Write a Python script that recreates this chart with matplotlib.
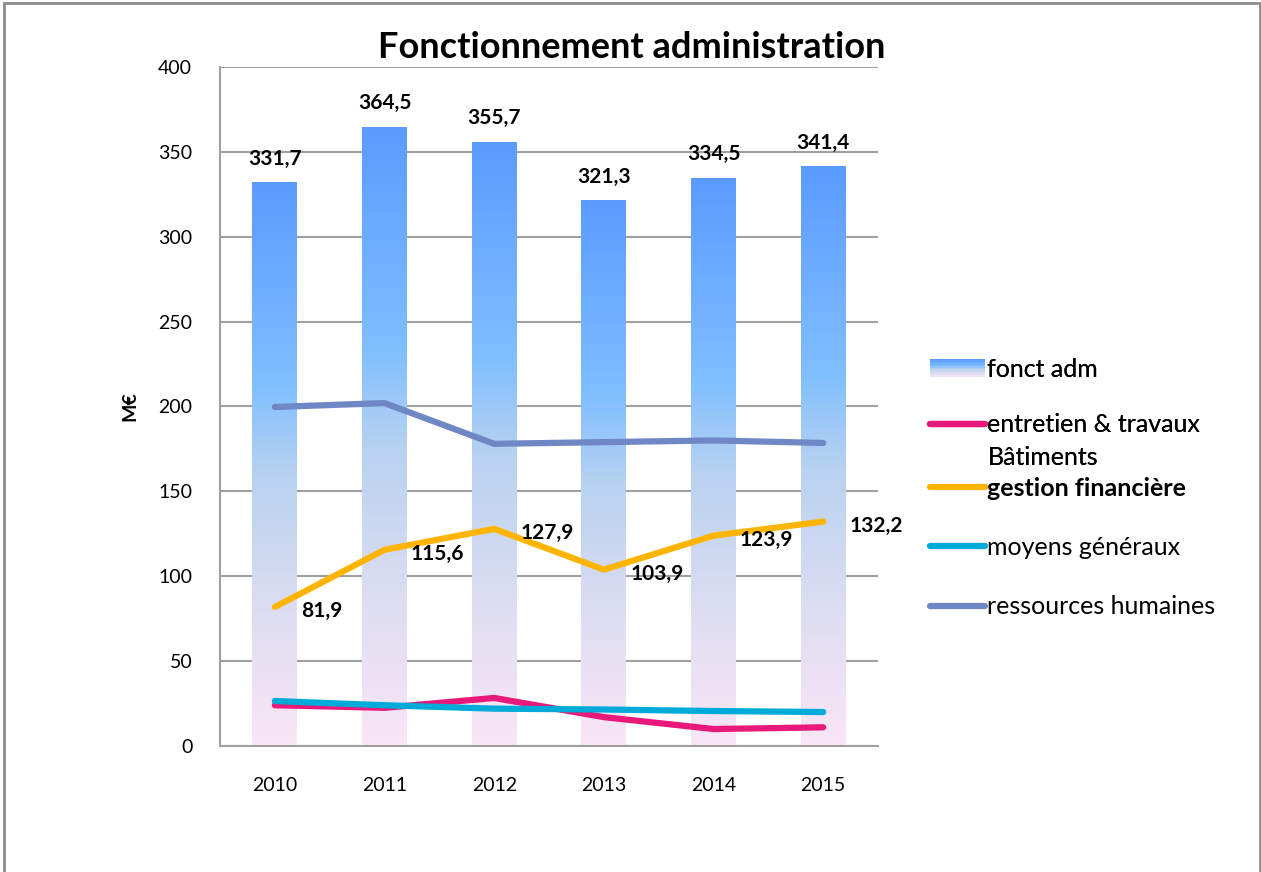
import numpy as np
import matplotlib.pyplot as plt
from matplotlib.colors import LinearSegmentedColormap
from matplotlib.patches import Rectangle
from matplotlib.lines import Line2D
from matplotlib.legend_handler import HandlerBase

plt.rcParams['font.family'] = ['Lato', 'DejaVu Sans']

annees = ['2010', '2011', '2012', '2013', '2014', '2015']
fonct_adm = [331.7, 364.5, 355.7, 321.3, 334.5, 341.4]
entretien = [24, 22.5, 28.3, 17, 10, 11]
gestion = [81.9, 115.6, 127.9, 103.9, 123.9, 132.2]
moyens = [26.5, 24, 22, 21.5, 20.6, 20]
rh = [199.7, 202, 178, 179, 180, 178.5]

degrade = LinearSegmentedColormap.from_list('degrade', [
    (0.0, '#f9e6f6'), (0.22, '#e0def2'), (0.48, '#b8d2f0'),
    (0.64, '#80bfff'), (1.0, '#5b9bff')])

fig = plt.figure(figsize=(12.61, 8.72), dpi=100)
ax = fig.add_axes([0.1745, 0.1445, 0.5218, 0.7787])

x = np.arange(len(annees))
larg = 0.41
barres = ax.bar(x, fonct_adm, width=larg, color='none', zorder=2)
grad = np.linspace(0, 1, 256).reshape(-1, 1)
for b in barres:
    x0, y0 = b.get_x(), b.get_y()
    ax.imshow(grad, cmap=degrade, origin='lower', aspect='auto',
              extent=[x0, x0 + b.get_width(), y0, y0 + b.get_height()], zorder=2)
for xi, v in zip(x, fonct_adm):
    ax.annotate(f"{v:.1f}".replace('.', ','), (xi, v), xytext=(0, 10),
                textcoords='offset points', ha='center', va='bottom',
                fontsize=15, fontweight='bold')

lw = 4.5
ax.plot(x, entretien, color='#e8197a', lw=lw, solid_capstyle='round', zorder=3)
ax.plot(x, gestion, color='#ffb500', lw=lw, solid_capstyle='round', zorder=3)
ax.plot(x, moyens, color='#00abd9', lw=lw, solid_capstyle='round', zorder=3)
ax.plot(x, rh, color='#7087c6', lw=lw, solid_capstyle='round', zorder=3)
for xi, v in zip(x, gestion):
    ax.annotate(f"{v:.1f}".replace('.', ','), (xi, v), xytext=(19, -3),
                textcoords='offset points', ha='left', va='center',
                fontsize=15, fontweight='bold', zorder=4)

ax.set_xlim(-0.5, 5.5)
ax.set_ylim(0, 400)
ax.set_yticks(range(0, 401, 50))
ax.set_xticks(x)
ax.set_xticklabels(annees)
ax.tick_params(length=0, labelsize=14)
ax.tick_params(axis='x', pad=22)
ax.tick_params(axis='y', pad=20)
ax.yaxis.grid(True, color='#a0a0a0', lw=1.5, zorder=1)
ax.set_axisbelow(True)
for s in ['top', 'right']:
    ax.spines[s].set_visible(False)
for s in ['left', 'bottom']:
    ax.spines[s].set_color('#a0a0a0')
    ax.spines[s].set_linewidth(1.5)
ax.set_ylabel('M€', fontsize=14, fontweight='bold', labelpad=14)

fig.text(0.501, 0.946, 'Fonctionnement administration', ha='center', va='center',
         fontsize=26, fontweight='bold')


class HandlerDegrade(HandlerBase):
    def create_artists(self, legend, orig, xd, yd, w, h, fontsize, trans):
        n = 12
        arts = []
        for i in range(n):
            arts.append(Rectangle((xd, yd + h * i / n), w, h / n + 0.3,
                                  facecolor=degrade(0.1 + 0.9 * i / (n - 1)),
                                  edgecolor='none', transform=trans))
        return arts


class HandlerTrait(HandlerBase):
    # trait de légende, décalé vers le haut pour les étiquettes sur deux lignes
    def __init__(self, decalage=0):
        super().__init__()
        self.decalage = decalage

    def create_artists(self, legend, orig, xd, yd, w, h, fontsize, trans):
        y = yd + h / 2 + self.decalage
        trait = Line2D([xd, xd + w], [y, y], color=orig.get_color(),
                       lw=orig.get_linewidth(), solid_capstyle='round', transform=trans)
        return [trait]


def trait(c):
    return Line2D([], [], color=c, lw=lw)


h_adm = Rectangle((0, 0), 1, 1)
h_ent = trait('#e8197a')
h_ges = trait('#ffb500')
h_moy = trait('#00abd9')
h_rh = trait('#7087c6')

opts = dict(frameon=False, fontsize=18, handlelength=2.2, handletextpad=0.1,
            borderpad=0, borderaxespad=0)
leg1 = fig.legend([h_adm, h_ent], ['fonct adm', 'entretien & travaux\nBâtiments'],
                  loc='upper left', bbox_to_anchor=(0.7375, 0.59), labelspacing=1.3,
                  handler_map={Rectangle: HandlerDegrade(), h_ent: HandlerTrait(13)}, **opts)
leg1.get_texts()[1].set_linespacing(1.55)
leg2 = fig.legend([h_ges, h_moy, h_rh], ['gestion financière', 'moyens généraux',
                                          'ressources humaines'],
                  loc='upper left', bbox_to_anchor=(0.7375, 0.453), labelspacing=1.45,
                  handler_map={Line2D: HandlerTrait(0)}, **opts)
leg2.get_texts()[0].set_fontweight('bold')
fig.add_artist(leg1)

fig.patches.append(Rectangle((0.0035, -0.1), 0.9955, 1.0965, transform=fig.transFigure,
                             fill=False, edgecolor='#8c8c8c', lw=2))

fig.savefig('out.png', dpi=100)
